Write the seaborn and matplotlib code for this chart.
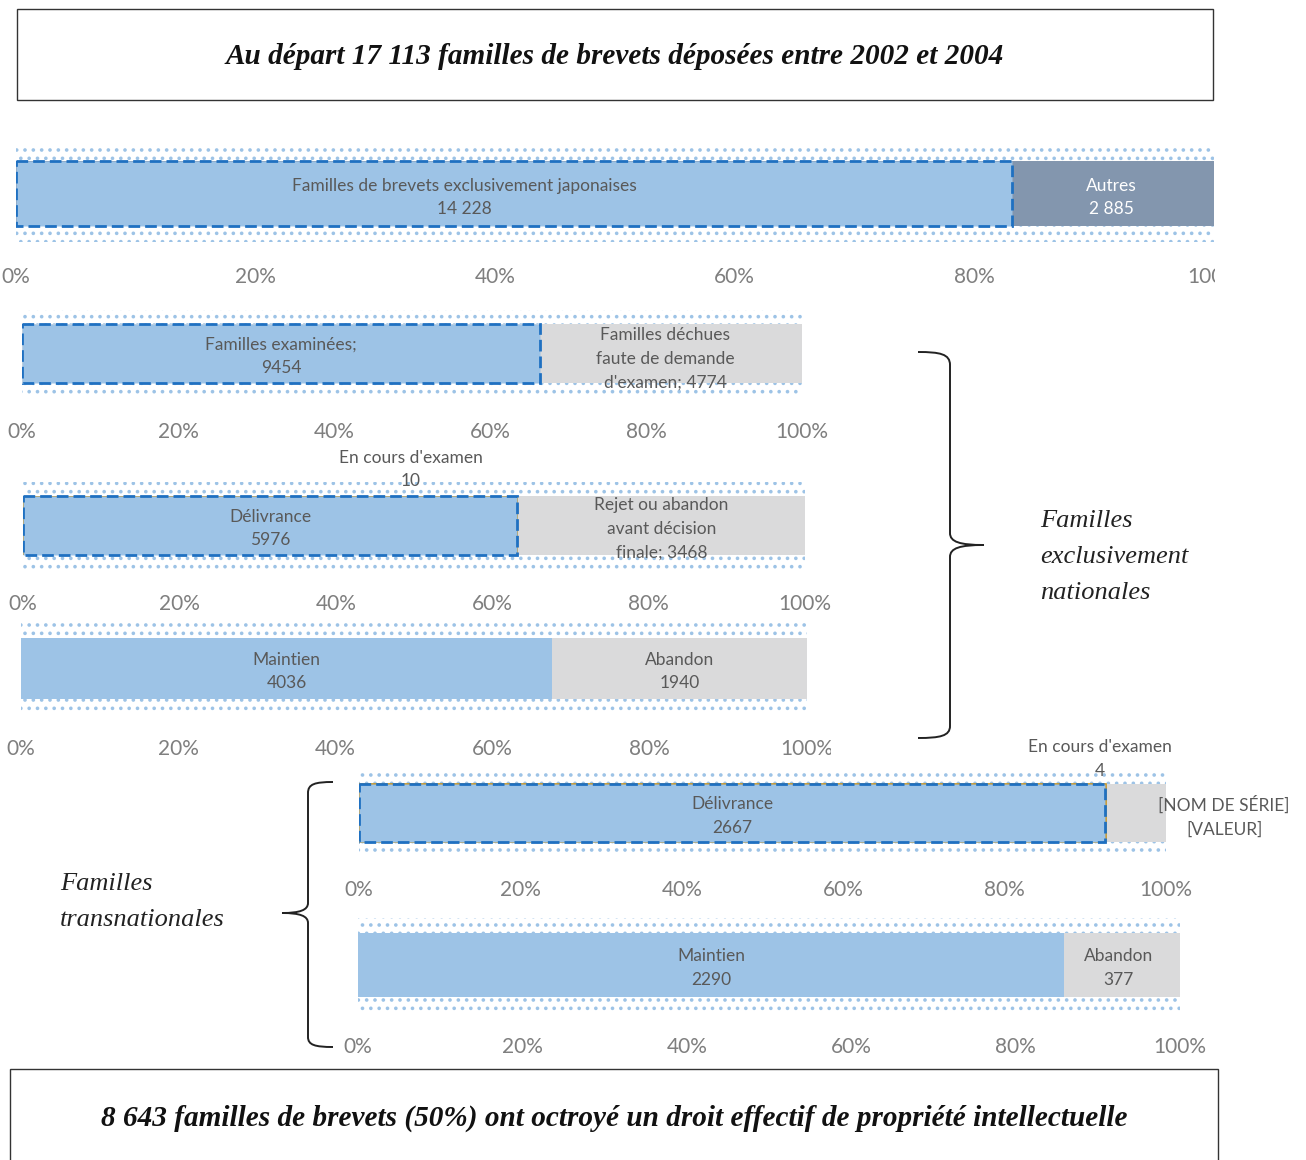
import numpy as np
import matplotlib
matplotlib.use("Agg")
import matplotlib.pyplot as plt
from matplotlib.path import Path
from matplotlib.patches import PathPatch, Rectangle
from matplotlib.transforms import Bbox, TransformedBbox
import seaborn as sns

# ---- data: segment labels (with {v} placeholder for the value) and values ----
p1_labels = ["Familles de brevets exclusivement japonaises\n{v}", "Autres\n{v}"]
p1_values = [14228, 2885]

p2_labels = ["Familles examinées;\n{v}", "Familles déchues\nfaute de demande\nd'examen; {v}"]
p2_values = [9454, 4774]

p3_labels = ["Délivrance\n{v}", "En cours d'examen\n{v}", "Rejet ou abandon\navant décision\nfinale; {v}"]
p3_values = [5976, 10, 3468]

p4_labels = ["Maintien\n{v}", "Abandon\n{v}"]
p4_values = [4036, 1940]

p5_labels = ["Délivrance\n{v}", "En cours d'examen\n{v}", "[NOM DE SÉRIE]\n[VALEUR]"]
p5_values = [2667, 4, 214]

p6_labels = ["Maintien\n{v}", "Abandon\n{v}"]
p6_values = [2290, 377]

tick_fracs = [0, 0.2, 0.4, 0.6, 0.8, 1.0]
tick_labels = ["0%", "20%", "40%", "60%", "80%", "100%"]

title_top = "Au départ 17 113 familles de brevets déposées entre 2002 et 2004"
title_bottom = "8 643 familles de brevets (50%) ont octroyé un droit effectif de propriété intellectuelle"

# ---- styling ----
sns.set_theme(style="white")
plt.rcParams["font.family"] = ["Lato", "DejaVu Sans"]
plt.rcParams["hatch.linewidth"] = 1.4

BLUE = "#9dc3e6"
EDGE = "#1f70c1"
GREY = "#dadadb"
SLATE = "#8396ae"
GOLD = "#c8921c"
DOT = "#9dc3e6"
TXT = "#595959"
TICK = "#7f7f7f"

W, H = 1306, 1160
fig = plt.figure(figsize=(W / 100, H / 100), dpi=100, facecolor="white")


def fx(x):
    return x / W


def fy(y):
    return 1 - y / H


def fmt_space(v):
    return f"{v:,}".replace(",", " ")


def draw_panel(rect, labels, values, colors, dashed, txt_colors,
               offsets=None, clip_x=None, fmt=str, gold_edge=False):
    x0, y0, x1, y1 = rect
    ax = fig.add_axes([fx(x0), fy(y1), (x1 - x0) / W, (y1 - y0) / H])
    ax.patch.set_facecolor("white")
    ax.patch.set_hatch("..")
    ax.patch.set_edgecolor(DOT)
    ax.patch.set_linewidth(0)

    values = np.asarray(values)
    total = values.sum()
    ends = np.cumsum(values)
    lefts = ends - values

    # cumulative bars, longest first, so every segment shows its own span
    for i in reversed(range(len(values))):
        if i == 0 and dashed:
            kw = dict(edgecolor=EDGE, linewidth=2.0, linestyle=(0, (4.2, 1.8)))
        elif colors[i] == GOLD and gold_edge:
            kw = dict(edgecolor=GOLD, linewidth=1.2)
        else:
            kw = dict(linewidth=0)
        sns.barplot(x=[ends[i]], y=["s"], orient="h", color=colors[i],
                    saturation=1, width=0.68, ax=ax, **kw)

    offsets = offsets or {}
    for i, (lab, v) in enumerate(zip(labels, values)):
        text = lab.format(v=fmt(v))
        cx = lefts[i] + v / 2
        dx, dy = offsets.get(i, (0, -3))
        ax.annotate(text, xy=(cx, 0), xycoords="data", xytext=(dx, dy),
                    textcoords="offset pixels", ha="center", va="center",
                    fontsize=12.5, color=txt_colors[i], linespacing=1.6,
                    annotation_clip=False)

    ax.set_xlim(0, total)
    ax.set_xticks([f * total for f in tick_fracs])
    ax.set_xticklabels(tick_labels)
    ax.set_yticks([])
    ax.set_xlabel("")
    ax.set_ylabel("")
    for s in ax.spines.values():
        s.set_visible(False)
    ax.tick_params(axis="x", length=0, pad=18, labelsize=15, labelcolor=TICK)
    if clip_x is not None:
        cb = TransformedBbox(Bbox.from_extents(0, 0, fx(clip_x), 1), fig.transFigure)
        for t in ax.get_xticklabels():
            t.set_clip_on(True)
            t.set_clip_box(cb)
    return ax


draw_panel((16, 145, 1214, 242), p1_labels, p1_values, [BLUE, SLATE], True,
           [TXT, "white"], offsets={0: (-50, -4), 1: (-2, -4)},
           clip_x=1215, fmt=fmt_space)
draw_panel((22, 310, 802, 397), p2_labels, p2_values, [BLUE, GREY], True,
           [TXT, TXT], offsets={0: (0, -3), 1: (-6, -5)})
draw_panel((23, 482, 805, 569), p3_labels, p3_values, [BLUE, GOLD, GREY], True,
           [TXT, TXT, TXT], offsets={1: (-107, 56)})
draw_panel((21, 623, 807, 714), p4_labels, p4_values, [BLUE, GREY], False,
           [TXT, TXT], clip_x=831)
draw_panel((359, 771, 1166, 855), p5_labels, p5_values, [BLUE, GOLD, GREY], True,
           [TXT, TXT, TXT], offsets={1: (-6, 54), 2: (88, -4)}, gold_edge=True)
draw_panel((358, 918, 1180, 1012), p6_labels, p6_values, [BLUE, GREY], False,
           [TXT, TXT], offsets={1: (-3, -3)})

# ---- framed headline boxes ----
fig.add_artist(Rectangle((fx(17), fy(100)), (1213 - 17) / W, 91 / H,
                         transform=fig.transFigure, fill=False,
                         edgecolor="#333333", linewidth=1.0))
fig.text(fx(615), fy(56), title_top, ha="center", va="center",
         family="Liberation Serif", weight="bold", style="italic",
         fontsize=21.1, color="#111111")

fig.add_artist(Rectangle((fx(10), fy(1166)), (1218 - 10) / W, 97 / H,
                         transform=fig.transFigure, fill=False,
                         edgecolor="#333333", linewidth=1.0))
fig.text(fx(614), fy(1118), title_bottom, ha="center", va="center",
         family="Liberation Serif", weight="bold", style="italic",
         fontsize=21.1, color="#111111")


# ---- curly braces grouping the panels ----
def brace(points):
    verts = [(fx(x), fy(y)) for x, y in points]
    codes = [Path.MOVETO, Path.CURVE4, Path.CURVE4, Path.CURVE4, Path.LINETO,
             Path.CURVE4, Path.CURVE4, Path.CURVE4, Path.CURVE4, Path.CURVE4,
             Path.CURVE4, Path.LINETO, Path.CURVE4, Path.CURVE4, Path.CURVE4]
    fig.add_artist(PathPatch(Path(verts, codes), transform=fig.transFigure,
                             fill=False, edgecolor="#222222", linewidth=1.4))


brace([(918, 352), (940, 352), (950, 354), (950, 365), (950, 533),
       (950, 542), (960, 545), (984, 545), (960, 545), (950, 548), (950, 557),
       (950, 726), (950, 736), (940, 738), (918, 738)])
brace([(333, 782), (315, 782), (308, 784), (308, 793), (308, 903),
       (308, 910), (300, 913), (282, 913), (300, 913), (308, 916), (308, 923),
       (308, 1037), (308, 1045), (315, 1047), (333, 1047)])

fig.text(fx(1040), fy(557), "Familles\nexclusivement\nnationales", ha="left",
         va="center", family="Liberation Serif", style="italic", fontsize=19,
         linespacing=1.8, color="#222222")
fig.text(fx(60), fy(902), "Familles\ntransnationales", ha="left", va="center",
         family="Liberation Serif", style="italic", fontsize=19,
         linespacing=1.8, color="#222222")

fig.savefig("out.png", dpi=100, facecolor="white")
